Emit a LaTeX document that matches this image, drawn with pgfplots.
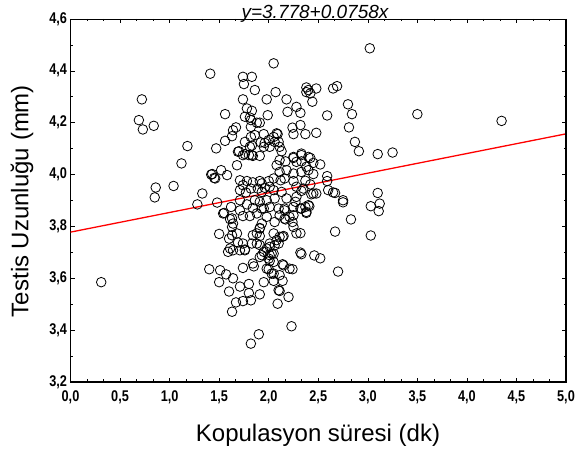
\documentclass[border=0pt]{standalone}
\usepackage{fontspec}
\setmainfont{Liberation Sans}
\newfontfamily\tickfont[FakeStretch=0.82]{Liberation Sans Bold}
\usepackage{pgfplots}
\pgfplotsset{compat=1.18}
\pgfplotstableread{
x y
0.31 3.585
0.72 4.290
0.69 4.210
0.73 4.174
0.84 4.188
0.85 3.912
0.86 3.950
1.04 3.956
1.12 4.043
1.18 4.110
1.28 3.885
1.33 3.927
1.41 4.389
1.40 3.635
1.47 4.101
1.43 4.002
1.45 3.987
1.48 3.892
1.52 4.017
1.56 4.233
1.56 4.130
1.58 3.998
1.50 3.771
1.50 3.585
1.55 3.852
1.62 3.875
1.63 4.148
1.64 4.171
1.67 4.182
1.68 4.036
1.69 4.088
1.74 4.377
1.83 4.377
1.75 4.349
1.86 4.326
1.74 4.290
1.78 4.255
1.83 4.246
1.76 4.223
1.81 4.220
1.82 4.210
1.88 4.200
1.82 4.184
1.76 4.126
1.82 4.145
1.86 4.152
1.81 4.107
1.83 4.112
1.76 4.079
1.83 4.075
1.91 4.072
1.92 4.124
1.95 4.156
1.98 4.290
1.99 4.229
2.05 4.429
2.07 4.318
1.96 4.122
2.00 4.133
1.95 4.107
2.05 4.145
2.09 4.156
2.10 4.126
2.11 4.107
2.13 4.090
2.18 4.290
2.19 4.242
2.28 4.261
2.32 4.238
2.38 4.336
2.40 4.326
2.38 4.318
2.44 4.281
2.48 4.332
2.24 4.181
2.32 4.191
2.25 4.156
2.37 4.156
2.48 4.161
2.11 4.056
2.17 4.051
2.25 4.068
2.33 4.075
2.33 4.051
2.40 4.068
3.02 4.487
2.65 4.332
2.69 4.341
2.80 4.271
2.84 4.233
2.59 4.228
3.50 4.233
4.35 4.207
2.81 4.182
2.87 4.126
2.91 4.090
3.10 4.079
3.25 4.085
2.59 3.994
2.45 4.045
2.52 4.039
2.38 4.030
2.45 4.002
2.40 4.017
2.37 3.976
2.33 3.937
2.43 3.924
2.48 3.927
2.60 3.940
2.67 3.929
2.75 3.901
3.10 3.929
2.75 3.893
3.03 3.878
3.12 3.888
3.11 3.859
2.83 3.827
2.67 3.780
3.03 3.765
2.33 3.693
2.46 3.688
2.52 3.677
2.70 3.626
2.41 3.878
2.38 3.852
2.33 3.869
2.32 3.774
1.60 3.753
1.63 3.766
1.68 3.773
1.64 3.811
1.63 3.831
1.59 3.702
1.64 3.708
1.71 3.708
1.76 3.711
1.74 3.734
1.74 3.640
1.84 3.657
1.85 3.646
1.51 3.631
1.57 3.615
1.64 3.600
1.60 3.549
1.71 3.568
1.80 3.578
1.95 3.585
1.67 3.507
1.74 3.512
1.82 3.515
1.63 3.471
1.80 3.543
1.91 3.538
1.90 3.384
1.82 3.348
2.23 3.415
2.09 3.502
2.10 3.554
2.05 3.590
2.14 3.590
2.20 3.528
2.00 3.635
2.05 3.618
2.11 3.612
2.15 3.650
2.24 3.635
2.05 3.663
2.00 3.676
1.91 3.682
1.95 3.702
1.84 3.766
1.88 3.773
1.91 3.792
1.83 3.734
1.91 3.728
1.98 3.715
2.01 3.721
2.05 3.695
2.01 3.689
2.05 3.773
2.08 3.747
2.11 3.760
2.14 3.760
2.10 3.734
2.25 3.798
2.28 3.773
2.24 3.817
2.17 3.827
2.38 3.856
2.32 3.869
2.11 3.843
2.16 3.862
2.21 3.837
1.70 4.090
1.80 4.075
1.84 4.072
1.74 4.075
1.42 4.000
1.46 3.985
1.71 3.978
1.78 3.975
1.84 3.970
1.91 3.975
1.74 3.959
1.82 3.946
1.89 3.946
1.71 3.940
1.77 3.931
1.93 3.933
1.54 3.850
1.61 3.828
1.63 3.798
1.71 3.901
1.78 3.885
1.86 3.901
1.71 3.862
1.74 3.840
1.81 3.840
1.88 3.850
1.93 3.869
1.84 3.871
1.69 3.738
1.61 3.715
1.91 3.763
1.88 3.734
1.76 3.708
1.91 3.794
2.25 4.064
2.33 4.081
2.42 4.064
2.28 4.049
2.08 4.036
2.18 4.017
2.11 4.010
2.16 3.985
2.05 3.985
2.00 3.975
1.93 3.966
2.12 3.978
2.01 3.953
1.96 3.949
2.25 3.975
2.28 3.953
2.42 3.962
2.35 3.946
2.45 3.927
2.59 3.975
2.65 3.931
2.05 3.940
2.13 3.933
2.06 3.908
2.18 3.908
2.28 3.914
2.27 3.895
1.98 3.901
1.91 3.895
2.37 3.875
2.40 3.882
2.25 3.875
2.16 3.869
2.10 3.869
2.01 3.875
1.95 3.869
2.16 3.830
2.06 3.817
1.98 3.837
1.93 3.811
2.25 3.843
2.15 3.763
2.01 3.734
2.06 3.727
2.32 3.699
1.93 3.689
2.03 3.695
2.01 3.667
2.14 3.654
2.21 3.637
1.98 3.637
2.03 3.618
2.11 3.551
1.91 4.200
2.08 4.159
2.06 4.126
2.01 4.107
2.42 4.313
2.25 4.004
2.33 4.010
}\scatterdata
\pgfplotstableread{
x y
0 3.778
5 4.157
}\regline
\begin{document}
\begin{tikzpicture}
\path[use as bounding box] (0,0) rectangle (584bp,456bp);
\begin{axis}[
  at={(70.5bp,74bp)}, anchor=south west,
  scale only axis, width=495.5bp, height=363bp,
  xmin=0, xmax=5, ymin=3.2, ymax=4.6,
  xtick={0,0.5,1,1.5,2,2.5,3,3.5,4,4.5,5},
  ytick={3.2,3.4,3.6,3.8,4.0,4.2,4.4,4.6},
  minor x tick num=2, minor y tick num=1,
  tick align=inside,
  major tick length=4bp, minor tick length=2.5bp,
  tick style={black, line width=0.6bp},
  axis line style={black, line width=0.8bp},
  /pgf/number format/assume math mode=true,
  /pgf/number format/.cd, fixed, fixed zerofill, precision=1, use comma,
  /pgfplots/.cd,
  ticklabel style={font=\tickfont\fontsize{15.5bp}{18bp}\selectfont},
  xticklabel style={yshift=-5bp},
  clip=true,
  after end axis/.code={
    \draw[line width=1.8bp, black] (rel axis cs:0,0) -- (rel axis cs:1,0) -- (rel axis cs:1,1);
  },
]
\addplot[only marks, mark=o, mark size=4.8bp, mark options={line width=0.8bp, black}] table {\scatterdata};
\addplot[red, line width=1.3bp, no marks] table {\regline};
\end{axis}
\node[anchor=base, font=\itshape\fontsize{19bp}{22bp}\selectfont] at (315bp,437.5bp) {y=3.778+0.0758x};
\node[anchor=center, font=\fontsize{24bp}{28bp}\selectfont] at (318bp,21bp) {Kopulasyon süresi (dk)};
\node[anchor=center, rotate=90, font=\fontsize{24bp}{28bp}\selectfont] at (22bp,255bp) {Testis Uzunluğu (mm)};
\end{tikzpicture}
\end{document}
